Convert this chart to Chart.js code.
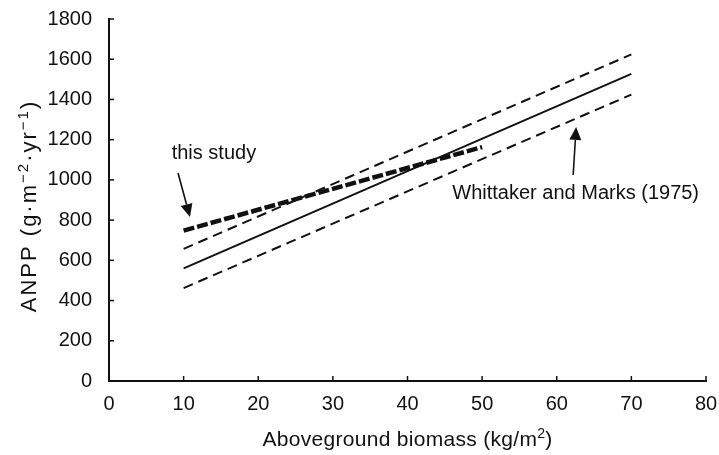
<!DOCTYPE html>
<html>
<head>
<meta charset="utf-8">
<script src="https://cdn.jsdelivr.net/npm/chart.js@4/dist/chart.umd.min.js"></script>
<style>
  body { margin: 0; background: #fff; }
</style>
</head>
<body>
<canvas id="myChart" width="719" height="455"></canvas>
<script>
// data
const lineX = [10, 70];
const whittakerMean = [560, 1527];
const whittakerUpper = [657, 1624];
const whittakerLower = [462, 1424];

const studyX = [10, 50];
const studyY = [748, 1163];

const xTicks = [0, 10, 20, 30, 40, 50, 60, 70, 80];
const yTicks = [0, 200, 400, 600, 800, 1000, 1200, 1400, 1600, 1800];

// axis titles, split where the superscripts are
const xTitle = [["Aboveground biomass (kg/m", 0], ["2", 1], [")", 0]];
const yTitle = [["ANPP (g·m", 0], ["−2", 1], ["·yr", 0], ["−1", 1], [")", 0]];

// notes with arrows, in data units
const noteText = ["this study", "Whittaker and Marks (1975)"];
const notePos = [[8.4, 1129], [46, 930]];
const arrowFrom = [[9.25, 1034], [62.2, 1024]];
const arrowTo = [[10.85, 815], [62.6, 1263]];

const fontFamily = '"Liberation Sans", Arial, Helvetica, sans-serif';
const ink = "#111";

function pts(xs, ys) {
    var out = [];
    for (let i = 0; i < xs.length; i++) {
	out.push({x: xs[i], y: ys[i]});
    }
    return out;
}

// text with raised parts, centred on (0,0) of the current transform
function richText(ctx, parts, size, supSize, spacing) {
    var w = 0;
    parts.forEach(function (p) {
	ctx.font = (p[1] ? supSize : size) + "px " + fontFamily;
	w += ctx.measureText(p[0]).width + spacing * p[0].length;
    });
    var x = -w / 2;
    ctx.textAlign = "left";
    ctx.textBaseline = "alphabetic";
    parts.forEach(function (p) {
	ctx.font = (p[1] ? supSize : size) + "px " + fontFamily;
	const y = p[1] ? -size * 0.38 : 0;
	for (const ch of p[0]) {
	    ctx.fillText(ch, x, y + size * 0.36);
	    x += ctx.measureText(ch).width + spacing;
	}
    });
}

// no extra room for half labels, the layout padding sets the plot box
function noLabelPadding(scale) {
    scale.paddingTop = 0;
    scale.paddingBottom = 0;
    scale.paddingLeft = 0;
    scale.paddingRight = 0;
}

// inward ticks, titles, notes and arrows
const extras = {
    id: "extras",
    afterDraw(chart) {
	const ctx = chart.ctx;
	const xs = chart.scales.x, ys = chart.scales.y;
	const area = chart.chartArea;
	ctx.save();
	ctx.strokeStyle = ink;
	ctx.lineWidth = 1.5;
	xTicks.forEach(function (v) {
	    const px = xs.getPixelForValue(v);
	    ctx.beginPath();
	    ctx.moveTo(px, area.bottom);
	    ctx.lineTo(px, area.bottom - 5);
	    ctx.stroke();
	});
	yTicks.forEach(function (v) {
	    const py = ys.getPixelForValue(v);
	    ctx.beginPath();
	    ctx.moveTo(area.left, py);
	    ctx.lineTo(area.left + 5, py);
	    ctx.stroke();
	});

	ctx.fillStyle = ink;

	// x title
	ctx.save();
	ctx.translate((area.left + area.right) / 2, 438);
	richText(ctx, xTitle, 21, 14, 0.3);
	ctx.restore();
	// y title
	ctx.save();
	ctx.translate(28, (area.top + area.bottom) / 2 + 6);
	ctx.rotate(-Math.PI / 2);
	richText(ctx, yTitle, 22, 15, 2.0);
	ctx.restore();

	ctx.font = "20px " + fontFamily;
	ctx.textBaseline = "middle";
	ctx.textAlign = "left";
	for (let i = 0; i < noteText.length; i++) {
	    ctx.fillText(noteText[i], xs.getPixelForValue(notePos[i][0]), ys.getPixelForValue(notePos[i][1]));

	    const x1 = xs.getPixelForValue(arrowFrom[i][0]), y1 = ys.getPixelForValue(arrowFrom[i][1]);
	    const x2 = xs.getPixelForValue(arrowTo[i][0]), y2 = ys.getPixelForValue(arrowTo[i][1]);
	    const a = Math.atan2(y2 - y1, x2 - x1);
	    const headLen = 13, headHalf = 6;
	    const bx = x2 - headLen * Math.cos(a), by = y2 - headLen * Math.sin(a);
	    ctx.lineWidth = 1.6;
	    ctx.beginPath();
	    ctx.moveTo(x1, y1);
	    ctx.lineTo(bx, by);
	    ctx.stroke();
	    ctx.beginPath();
	    ctx.moveTo(x2, y2);
	    ctx.lineTo(bx + headHalf * Math.sin(a), by - headHalf * Math.cos(a));
	    ctx.lineTo(bx - headHalf * Math.sin(a), by + headHalf * Math.cos(a));
	    ctx.closePath();
	    ctx.fill();
	}
	ctx.restore();
    }
};

const ctx = document.getElementById("myChart").getContext("2d");
window.myChart = new Chart(ctx, {
    type: "scatter",
    data: {
	datasets: [
	    { label: "upper", data: pts(lineX, whittakerUpper), showLine: true,
	      borderColor: ink, borderWidth: 2, borderDash: [10, 6], pointRadius: 0 },
	    { label: "Whittaker and Marks (1975)", data: pts(lineX, whittakerMean), showLine: true,
	      borderColor: ink, borderWidth: 2, pointRadius: 0 },
	    { label: "lower", data: pts(lineX, whittakerLower), showLine: true,
	      borderColor: ink, borderWidth: 2, borderDash: [10, 6], pointRadius: 0 },
	    { label: "this study", data: pts(studyX, studyY), showLine: true,
	      borderColor: ink, borderWidth: 4.5, borderDash: [11, 3], pointRadius: 0 },
	]
    },
    options: {
	responsive: false,
	animation: false,
	layout: { padding: { left: 0, right: 13, top: 19, bottom: 0 } },
	plugins: { legend: { display: false }, tooltip: { enabled: false } },
	scales: {
	    x: {
		type: "linear", min: 0, max: 80,
		afterBuildTicks: function (scale) { scale.ticks = xTicks.map(v => ({value: v})); },
		afterFit: function (scale) { scale.height = 74; noLabelPadding(scale); },
		grid: { drawOnChartArea: false, drawTicks: false },
		border: { color: ink, width: 2 },
		ticks: { color: ink, padding: 11, callback: v => String(v),
			 font: { size: 20, family: fontFamily } }
	    },
	    y: {
		type: "linear", min: 0, max: 1800,
		afterBuildTicks: function (scale) { scale.ticks = yTicks.map(v => ({value: v})); },
		afterFit: function (scale) { scale.width = 109; noLabelPadding(scale); },
		grid: { drawOnChartArea: false, drawTicks: false },
		border: { color: ink, width: 2 },
		ticks: { color: ink, padding: 17, callback: v => String(v),
			 font: { size: 20, family: fontFamily } }
	    }
	}
    },
    plugins: [extras]
});
</script>
</body>
</html>
